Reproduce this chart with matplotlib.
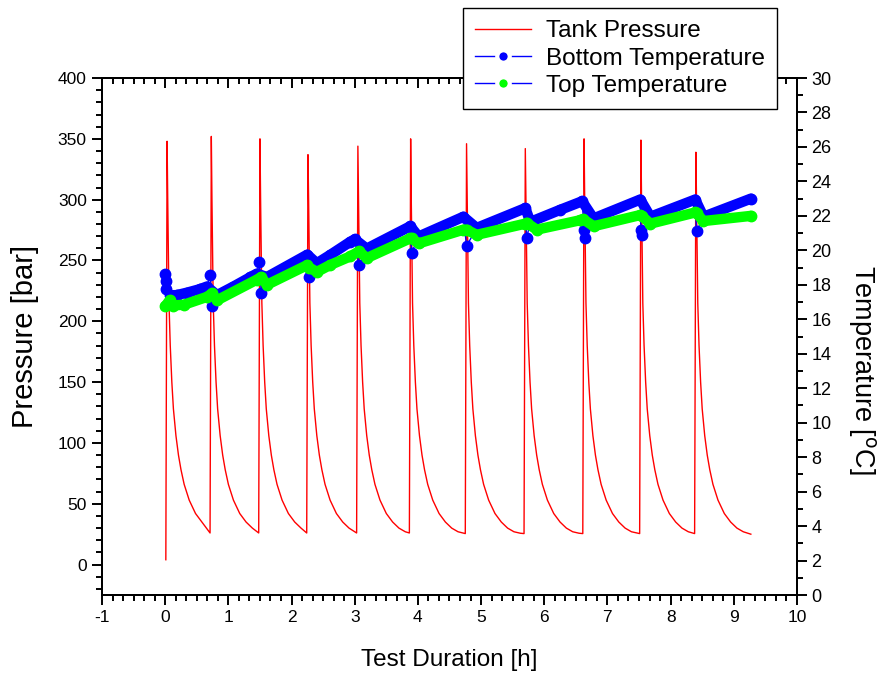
import numpy as np
import matplotlib
matplotlib.use('Agg')
import matplotlib.pyplot as plt
from matplotlib.lines import Line2D
from matplotlib.ticker import MultipleLocator, AutoMinorLocator

plt.rcParams['font.family'] = ['Liberation Sans', 'DejaVu Sans']
plt.rcParams['axes.unicode_minus'] = False

# tank pressure: refill start times [h], peak pressure [bar], pressure just before next refill
refill_start = [0.01, 0.71, 1.48, 2.24, 3.03, 3.865, 4.75, 5.68, 6.61, 7.51, 8.38]
peak_p = [348, 352, 350, 337, 344, 350, 346, 342, 350, 349, 339]
end_p = [26, 26, 26, 26, 26, 25.5, 25.5, 25.5, 25.5, 25.5, 25]
start_p = 4
test_end = 9.27
# decay after a refill (hours after peak, bar)
decay_dt = [0.01, 0.03, 0.05, 0.075, 0.1, 0.14, 0.18, 0.22, 0.27, 0.35, 0.45, 0.55, 0.65, 0.75, 0.85]
decay_p = [300, 215, 180, 150, 128, 106, 90, 78, 66, 53, 42, 35, 30, 27, 25.8]

# bottom temperature [h, degC]
bottom_t = [0.00, 0.01, 0.02, 0.08, 0.18, 0.35, 0.55, 0.66, 0.71, 0.74, 0.82, 1.08, 1.35, 1.45,
            1.49, 1.52, 1.61, 2.25, 2.28, 2.40, 2.61, 2.93, 3.00, 3.07, 3.19, 3.88, 3.90, 4.01,
            4.72, 4.77, 4.93, 5.70, 5.72, 5.78, 6.25, 6.60, 6.63, 6.65, 6.78, 7.52, 7.53, 7.54,
            7.68, 8.39, 8.41, 8.52, 9.27]
bottom_T = [18.6, 18.2, 17.75, 17.4, 17.4, 17.55, 17.75, 17.9, 18.55, 16.75, 17.4, 17.9, 18.45, 18.65,
            19.3, 17.55, 18.45, 19.75, 18.45, 19.25, 19.73, 20.5, 20.64, 19.15, 20.1, 21.4, 19.85, 20.8,
            21.95, 20.25, 21.3, 22.45, 20.7, 21.65, 22.35, 22.85, 21.2, 20.7, 21.85, 22.95, 21.2, 20.9,
            21.95, 22.95, 21.1, 21.95, 23.0]
bottom_dips = [0, 1, 2, 8, 9, 14, 15, 18, 23, 26, 29, 32, 36, 37, 40, 41, 44]

# top temperature [h, degC]
top_t = [0.00, 0.07, 0.12, 0.30, 0.66, 0.74, 0.82, 1.45, 1.52, 1.61, 2.25, 2.28, 2.40, 2.61,
         2.93, 3.07, 3.19, 3.88, 3.90, 4.01, 4.72, 4.77, 4.93, 5.70, 5.72, 5.88, 6.57, 6.62,
         6.78, 7.52, 7.54, 7.68, 8.39, 8.41, 8.52, 9.27]
top_T = [16.75, 17.1, 16.8, 16.85, 17.3, 17.5, 17.1, 18.3, 18.45, 18.0, 19.15, 19.0, 18.75, 19.15,
         19.65, 19.95, 19.55, 20.7, 20.7, 20.4, 21.2, 21.2, 20.9, 21.55, 21.6, 21.2, 21.75, 21.8,
         21.4, 22.05, 22.0, 21.55, 22.2, 22.15, 21.7, 22.0]

# build the pressure trace cycle by cycle
p_t = [refill_start[0]]
p_v = [start_p]
for i in range(len(refill_start)):
    t_peak = refill_start[i] + 0.02
    t_next = refill_start[i + 1] if i + 1 < len(refill_start) else test_end
    p_t.append(t_peak)
    p_v.append(peak_p[i])
    for dt, p in zip(decay_dt, decay_p):
        if t_peak + dt < t_next - 0.03:
            p_t.append(t_peak + dt)
            p_v.append(p)
    p_t.append(t_next)
    p_v.append(end_p[i])

fig = plt.figure(figsize=(8.78, 6.75), dpi=100)
ax = fig.add_axes([0.1162, 0.1185, 0.7915, 0.7659])
ax2 = ax.twinx()

ax.plot(p_t, p_v, color='red', lw=1.0)

bt = np.array(bottom_t)
bT = np.array(bottom_T)
band = np.ones(len(bt), dtype=bool)
band[bottom_dips] = False
ax2.plot(bt, bT, color='blue', lw=1.0, marker='o', ms=7.5, mfc='blue', mec='blue', zorder=2)
ax2.plot(bt[band], bT[band], color='blue', lw=7.5, solid_capstyle='round',
         solid_joinstyle='round', zorder=3)
ax2.plot(top_t, top_T, color='#00ff00', lw=7.5, solid_capstyle='round',
         solid_joinstyle='round', zorder=4)
ax2.plot(top_t, top_T, ls='none', marker='o', ms=7.5, mfc='#00ff00', mec='#00ff00', zorder=4)

ax.set_xlim(-1, 10)
ax.set_ylim(-25, 400)
ax2.set_ylim(0, 30)

ax.xaxis.set_major_locator(MultipleLocator(1))
ax.xaxis.set_minor_locator(AutoMinorLocator(6))
ax.yaxis.set_major_locator(MultipleLocator(50))
ax.yaxis.set_minor_locator(MultipleLocator(10))
ax2.yaxis.set_major_locator(MultipleLocator(2))
ax2.yaxis.set_minor_locator(MultipleLocator(1))

for a in (ax, ax2):
    for s in a.spines.values():
        s.set_linewidth(1.4)

ax.tick_params(axis='x', which='both', direction='out', top=False, labelsize=12.5, width=1.4)
ax.tick_params(axis='y', which='both', direction='out', right=False, labelsize=12.5, width=1.4)
ax.tick_params(which='major', length=7.5)
ax.tick_params(which='minor', length=4.5)
ax2.tick_params(axis='y', which='both', direction='out', labelsize=13, width=1.4)
ax2.tick_params(which='major', length=7)
ax2.tick_params(which='minor', length=4)

top = ax.secondary_xaxis('top')
top.xaxis.set_major_locator(MultipleLocator(1))
top.xaxis.set_minor_locator(AutoMinorLocator(6))
top.tick_params(which='both', direction='in', labeltop=False, width=1.4)
top.tick_params(which='major', length=7.5)
top.tick_params(which='minor', length=4)
top.spines['top'].set_linewidth(1.4)

ax.set_xlabel('Test Duration [h]', fontsize=17.5, labelpad=17)
ax.set_ylabel('Pressure [bar]', fontsize=21, va='center')
ax.yaxis.set_label_coords(-0.111, 0.5)
ax2.set_ylabel('Temperature [$^{\\mathrm{o}}$C]', fontsize=19.5, rotation=270, va='center')
ax2.yaxis.set_label_coords(1.093, 0.435)

handles = [
    Line2D([], [], color='red', lw=1.0),
    Line2D([], [], color='blue', lw=1.0, marker='o', ms=9, mfc='blue', mec='white', mew=3),
    Line2D([], [], color='blue', lw=1.0, marker='o', ms=9, mfc='#00ff00', mec='white', mew=3),
]
labels = ['Tank Pressure', 'Bottom Temperature', 'Top Temperature']
leg = fig.legend(handles, labels, loc='upper right', bbox_to_anchor=(777 / 878, 1 - 8 / 675),
                 fontsize=17.5, frameon=True, fancybox=False, framealpha=1, handlelength=2.3,
                 handletextpad=0.6, labelspacing=0.22, borderpad=0.5, borderaxespad=0)
leg.get_frame().set_edgecolor('black')
leg.get_frame().set_linewidth(1.0)

fig.savefig('out.png', dpi=100)
